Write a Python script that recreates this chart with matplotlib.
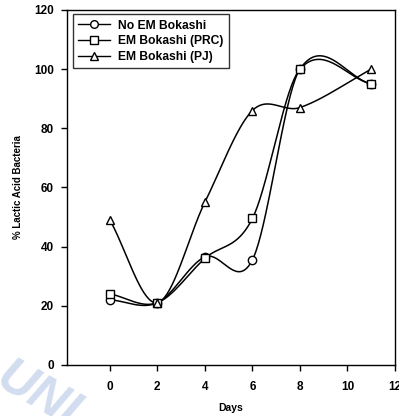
import numpy as np
import matplotlib
matplotlib.use("Agg")
import matplotlib.pyplot as plt
from matplotlib.lines import Line2D

plt.rcParams['font.family'] = ['Liberation Sans', 'DejaVu Sans']
plt.rcParams['font.weight'] = 'bold'

# data
days = [0, 2, 4, 6, 8, 11]
no_em = [22, 21, 36.5, 35.5, 100, 95]
em_prc = [24, 21, 36, 49.5, 100, 95]
em_pj = [49, 21, 55, 86, 87, 100]

labels = ["No EM Bokashi", "EM Bokashi (PRC)", "EM Bokashi (PJ)"]
markers = ["o", "s", "^"]


def smooth(x, y, n=40):
    # Catmull-Rom style hermite curve, only used to draw the line between points
    x = np.asarray(x, float)
    y = np.asarray(y, float)
    k = len(x)
    m = np.zeros(k)
    m[0] = (y[1] - y[0]) / (x[1] - x[0])
    m[-1] = (y[-1] - y[-2]) / (x[-1] - x[-2])
    for i in range(1, k - 1):
        m[i] = (y[i + 1] - y[i - 1]) / (x[i + 1] - x[i - 1])
    xs_all, ys_all = [], []
    for i in range(k - 1):
        h = x[i + 1] - x[i]
        t = np.linspace(0, 1, n)
        h00 = 2 * t**3 - 3 * t**2 + 1
        h10 = t**3 - 2 * t**2 + t
        h01 = -2 * t**3 + 3 * t**2
        h11 = t**3 - t**2
        xs_all.append(x[i] + t * h)
        ys_all.append(h00 * y[i] + h10 * h * m[i] + h01 * y[i + 1] + h11 * h * m[i + 1])
    return np.concatenate(xs_all), np.concatenate(ys_all)


fig = plt.figure(figsize=(3.99, 4.16), dpi=100)
ax = fig.add_axes([0.168, 0.123, 0.822, 0.853])

handles = []
for vals, mk, lab in zip([no_em, em_prc, em_pj], markers, labels):
    xs, ys = smooth(days, vals)
    ax.plot(xs, ys, color="black", lw=1.1, zorder=2)
    ax.plot(days, vals, linestyle="none", marker=mk, ms=6, mfc="white",
            mec="black", mew=1.0, zorder=3)
    handles.append(Line2D([], [], color="black", lw=1.0, marker=mk, ms=5.5,
                          mfc="white", mec="black", mew=1.0, label=lab))

ax.set_xlim(-1.8, 12)
ax.set_ylim(0, 120)
ax.set_xticks([0, 2, 4, 6, 8, 10, 12])
ax.set_yticks([0, 20, 40, 60, 80, 100, 120])
ax.tick_params(direction="out", length=4.5, width=1, labelsize=8.5)
ax.tick_params(axis="x", pad=7)
ax.tick_params(axis="y", pad=5)
for lab in ax.get_xticklabels() + ax.get_yticklabels():
    lab.set_fontweight("bold")
for sp in ax.spines.values():
    sp.set_linewidth(1.0)

ax.set_xlabel("Days", fontsize=7.5, fontweight="bold", labelpad=7)
ax.set_ylabel("% Lactic Acid Bacteria", fontsize=7, fontweight="bold", labelpad=8)

leg = ax.legend(handles=handles, loc="upper left", bbox_to_anchor=(0.01, 0.995),
                fontsize=8.7, frameon=True, fancybox=False, handlelength=2.6,
                borderpad=0.45, labelspacing=0.3, handletextpad=0.7,
                borderaxespad=0.2)
leg.get_frame().set_edgecolor("black")
leg.get_frame().set_linewidth(1.0)
for t in leg.get_texts():
    t.set_fontweight("bold")

# faint scan watermark at the bottom left
fig.text(-0.03, -0.05, "UNI", fontsize=36, fontweight="bold", style="italic",
         color="#d2ddef", rotation=-30, ha="left", va="bottom", zorder=0)

fig.savefig("out.png", dpi=100)
